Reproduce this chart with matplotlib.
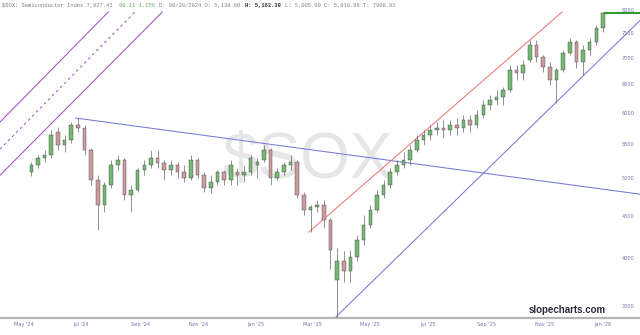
import matplotlib
matplotlib.use('Agg')
import matplotlib.pyplot as plt
import matplotlib.ticker as mticker
import matplotlib.transforms as mtransforms
import pandas as pd
import numpy as np

# ---------------- data (weekly candles) ----------------
dates = pd.date_range('2024-05-22', periods=87, freq='7D')
opens = [5095, 5195, 5298, 5342, 5695, 5493, 5570, 5807, 5759, 5417,
         4982, 4647, 4913, 5195, 5268, 4778, 4845, 5123, 5195, 5298,
         5225, 5123, 5195, 5095, 5010, 5268, 5052, 4872, 4954, 5095,
         4982, 5095, 5052, 5095, 5195, 5268, 5417, 5010, 5095, 5195,
         5239, 4778, 4583, 4621, 4647, 4458, 3771, 3966, 3857, 4010,
         4216, 4396, 4583, 4778, 4913, 5095, 5195, 5268, 5417, 5570,
         5648, 5727, 5759, 5727, 5807, 5759, 5889, 5807, 5971, 6140,
         6226, 6278, 6402, 6769, 6713, 6961, 7257, 7019, 6826, 6583,
         6769, 7097, 7318, 6922, 7156, 7318, 7608]
highs = [5239, 5342, 5417, 5727, 5775, 5648, 5856, 5920, 5807, 5447,
         5052, 4954, 5268, 5342, 5298, 4913, 5152, 5268, 5417, 5417,
         5268, 5268, 5239, 5195, 5342, 5298, 5095, 5052, 5123, 5123,
         5268, 5152, 5195, 5342, 5298, 5493, 5447, 5152, 5239, 5342,
         5268, 4818, 4647, 4712, 4712, 4482, 4123, 4078, 4100, 4275,
         4520, 4647, 4845, 4982, 5152, 5268, 5387, 5493, 5648, 5727,
         5807, 5856, 5889, 5889, 5922, 5971, 5971, 6055, 6226, 6313,
         6402, 6456, 6864, 6864, 6961, 7359, 7359, 7058, 6922, 6807,
         7156, 7400, 7359, 7257, 7400, 7672, 7955]
lows = [5038, 5152, 5239, 5298, 5417, 5387, 5523, 5695, 5342, 4913,
        4335, 4557, 4872, 5123, 4712, 4557, 4818, 5052, 5152, 5152,
        4982, 5052, 5010, 4954, 4982, 5010, 4818, 4804, 4913, 4913,
        4913, 4913, 4954, 5052, 5010, 5239, 4913, 4982, 5052, 5123,
        4738, 4520, 4311, 4557, 4360, 3879, 3394, 3750, 3750, 3966,
        4158, 4360, 4557, 4738, 4872, 5052, 5152, 5195, 5387, 5493,
        5570, 5648, 5601, 5648, 5648, 5695, 5695, 5759, 5922, 6055,
        6140, 6140, 6367, 6583, 6583, 6922, 6922, 6731, 6492, 6174,
        6731, 7058, 6807, 6675, 7058, 7257, 7524]
closes = [5195, 5298, 5342, 5648, 5493, 5570, 5807, 5759, 5417, 4982,
          4647, 4913, 5195, 5268, 4778, 4845, 5123, 5195, 5298, 5225,
          5123, 5195, 5095, 5010, 5268, 5052, 4872, 4954, 5095, 4982,
          5195, 5052, 5095, 5298, 5239, 5417, 5010, 5095, 5195, 5239,
          4778, 4583, 4621, 4647, 4458, 4100, 3966, 3857, 4010, 4216,
          4396, 4583, 4778, 4913, 5095, 5195, 5268, 5417, 5570, 5648,
          5727, 5759, 5727, 5807, 5759, 5889, 5807, 5971, 6140, 6226,
          6278, 6402, 6769, 6713, 6864, 7257, 7019, 6826, 6583, 6769,
          7097, 7318, 6922, 7156, 7318, 7608, 7927.41]

y_ticks = [3500, 4000, 4500, 5000, 5500, 6000, 6500, 7000, 7500, 8000]
x_tick_dates = pd.to_datetime(['2024-05-01', '2024-07-01', '2024-09-01', '2024-11-01',
                               '2025-01-01', '2025-03-01', '2025-05-01', '2025-07-01',
                               '2025-09-01', '2025-11-01', '2026-01-01'])
x_tick_labels = ["May '24", "Jul '24", "Sep '24", "Nov '24", "Jan '25", "Mar '25",
                 "May '25", "Jul '25", "Sep '25", "Nov '25", "Jan '26"]

# trend lines (date, price) pairs
channel_upper = (['2024-04-19', '2024-08-11'], [5851, 7956])
channel_mid = (['2024-04-19', '2024-09-08'], [5426, 7956])
channel_lower = (['2024-04-19', '2024-10-07'], [5045, 7956])
down_line = (['2024-07-08', '2026-02-22'], [5917, 4785])
red_line = (['2025-03-10', '2025-12-02'], [4303, 7956])
up_line = (['2025-04-07', '2026-02-22'], [3390, 7770])

x_left, x_right = pd.Timestamp('2024-04-19'), pd.Timestamp('2026-02-22')

# ---------------- figure ----------------
fig = plt.figure(figsize=(6.4, 3.35), dpi=100)
fig.patch.set_facecolor('white')
ax = fig.add_axes([0, 17 / 335, 1, (335 - 17 - 9.5) / 335])
ax.set_yscale('log')
ax.set_xlim(x_left, x_right)
ax.set_ylim(3387, 8011)

# watermark
ax.text(0.481, 0.512, '$SOX', transform=ax.transAxes, ha='center', va='center',
        fontsize=46, color='#e6e6e6', family='Liberation Sans', zorder=0)

# candles
o = np.array(opens); h = np.array(highs); l = np.array(lows); c = np.array(closes)
up = c >= o
ax.vlines(dates, l, h, color='#555555', linewidth=0.45, zorder=3)
bw = pd.Timedelta(days=3.8)
ax.bar(dates[up], (c - o)[up], bottom=o[up], width=bw, color='#74b874',
       edgecolor='#444444', linewidth=0.3, zorder=4)
ax.bar(dates[~up], (o - c)[~up], bottom=c[~up], width=bw, color='#cc9c9c',
       edgecolor='#444444', linewidth=0.3, zorder=4)

def tl(line, **kw):
    ax.plot(pd.to_datetime(line[0]), line[1], **kw)

purple = '#a84ed0'
tl(channel_upper, color=purple, lw=0.75, zorder=2)
tl(channel_mid, color=purple, lw=0.75, dashes=(2.5, 3), zorder=2)
tl(channel_lower, color=purple, lw=0.75, zorder=2)
tl(down_line, color='#7878dc', lw=0.75, zorder=2)
tl(red_line, color='#ee6e6e', lw=0.7, zorder=2)
tl(up_line, color='#7878dc', lw=0.75, zorder=2)

# last price line
ax.plot([dates[-1] + pd.Timedelta(days=2), x_right], [closes[-1], closes[-1]],
        color='#2f9a2f', lw=1.5, zorder=5)

# axes styling
for s in ['top', 'left', 'right']:
    ax.spines[s].set_visible(False)
ax.spines['bottom'].set_color('#b4b4b4')
ax.spines['bottom'].set_linewidth(1.6)

ax.yaxis.set_major_locator(mticker.FixedLocator(y_ticks))
ax.yaxis.set_minor_locator(mticker.NullLocator())
ax.yaxis.set_major_formatter(mticker.FixedFormatter([str(v) for v in y_ticks]))
ax.yaxis.set_minor_formatter(mticker.NullFormatter())
ax.yaxis.tick_right()
ax.tick_params(axis='y', length=0, pad=-13, labelsize=3.6, labelcolor='#7474aa')

ax.set_xticks(x_tick_dates)
ax.set_xticklabels(x_tick_labels)
ax.tick_params(axis='x', length=0, pad=3, labelsize=3.6, labelcolor='#7474aa')
offset = mtransforms.ScaledTranslation(0.12, 0, fig.dpi_scale_trans)
for lab in ax.get_xticklabels():
    lab.set_transform(lab.get_transform() + offset)

# header
segments = [("$SOX: Semiconductor Index 7,927.41 ", '#808080', 'normal'),
            ("90.11 1.15% ", '#5aaa5a', 'normal'),
            ("D: 08/28/2024 O: 5,138.60 ", '#808080', 'normal'),
            ("H: 5,163.30 ", '#333333', 'bold'),
            ("L: 5,005.90 C: 5,010.96 T: 7908.91", '#808080', 'normal')]
n = 0
for txt, col, wt in segments:
    tr = fig.transFigure + mtransforms.ScaledTranslation(n * 0.6 * 4 / 72, 0, fig.dpi_scale_trans)
    fig.text(2 / 640, 1 - 5.5 / 335, txt, transform=tr, ha='left', va='center',
             fontsize=4, color=col, weight=wt, family='Liberation Mono')
    n += len(txt)

fig.text(567 / 640, 1 - 310 / 335, 'slopecharts.com', ha='center', va='center',
         fontsize=7, weight='bold', color='#2c2c3c', family='Liberation Sans')

fig.savefig('out.png', dpi=100)
